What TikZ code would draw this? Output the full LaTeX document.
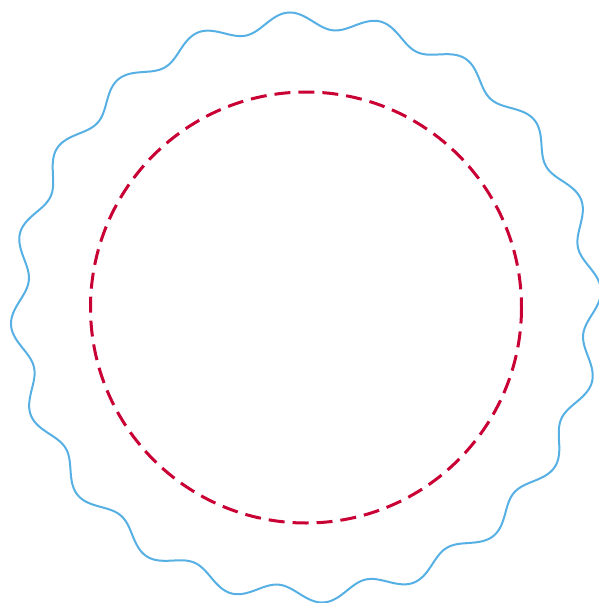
\documentclass[tikz,border=0pt]{standalone}
\definecolor{wavyblue}{RGB}{86,176,228}
\definecolor{dashred}{RGB}{200,0,52}
\begin{document}
\begin{tikzpicture}[x=1pt,y=-1pt,
  wavyline/.style={draw=wavyblue,line width=2pt,line join=round},
  dashring/.style={draw=dashred,line width=3pt,dash pattern=on 16pt off 8pt}]
\useasboundingbox (0,0) rectangle (598,603);
\coordinate (c) at (306,307.5);
\draw[wavyline] plot[domain=0:360,samples=721,smooth]
  ({306+(287+8.5*cos(20*(\x-3.4)))*cos(\x)},{307.5-(287+8.5*cos(20*(\x-3.4)))*sin(\x)}) -- cycle;
\draw[dashring] (c) circle[radius=215.5];
\end{tikzpicture}
\end{document}
